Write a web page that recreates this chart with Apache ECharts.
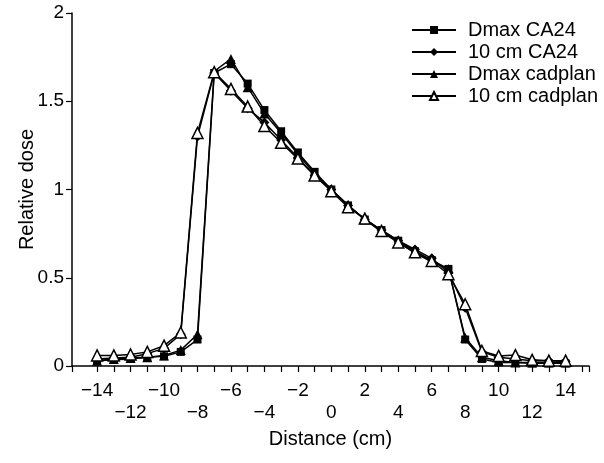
<!DOCTYPE html>
<html>
<head>
<meta charset="utf-8">
<script src="https://cdn.jsdelivr.net/npm/echarts@6/dist/echarts.min.js"></script>
<style>html,body{margin:0;padding:0;background:#fff}#c{width:604px;height:463px}</style>
</head>
<body>
<div id="c"></div>
<script>
const distances = [-14,-13,-12,-11,-10,-9,-8,-7,-6,-5,-4,-3,-2,-1,0,1,2,3,4,5,6,7,8,9,10,11,12,13,14];
const dmaxCA24 =     [0.03,0.035,0.04,0.05,0.055,0.08,0.15,1.66,1.71,1.60,1.45,1.33,1.21,1.10,1.00,0.91,0.83,0.77,0.71,0.65,0.60,0.55,0.15,0.04,0.02,0.02,0.015,0.015,0.015];
const cm10CA24 =     [0.04,0.045,0.05,0.07,0.10,0.18,1.30,1.66,1.56,1.46,1.38,1.28,1.18,1.08,1.00,0.91,0.83,0.77,0.71,0.66,0.61,0.53,0.33,0.08,0.05,0.04,0.03,0.03,0.025];
const dmaxCadplan =  [0.03,0.04,0.045,0.05,0.06,0.09,0.18,1.67,1.74,1.58,1.43,1.32,1.20,1.09,1.00,0.91,0.83,0.76,0.70,0.64,0.59,0.55,0.16,0.05,0.03,0.02,0.02,0.02,0.02];
const cm10Cadplan =  [0.06,0.06,0.065,0.08,0.115,0.19,1.32,1.665,1.57,1.47,1.36,1.265,1.175,1.08,0.99,0.90,0.835,0.765,0.70,0.645,0.595,0.52,0.35,0.085,0.057,0.062,0.035,0.03,0.03];
const seriesNames = ['Dmax CA24','10 cm CA24','Dmax cadplan','10 cm cadplan'];
const xLabelValues = [-14,-12,-10,-8,-6,-4,-2,0,2,4,6,8,10,12,14];
const xTickValues = [-15.5,-14,-13,-12,-11,-10,-9,-8,-7,-6,-5,-4,-3,-2,-1,0,1,2,3,4,5,6,7,8,9,10,11,12,13,14,15,15.4];

const FONT = 'Liberation Sans, Arial, sans-serif';
function pairs(arr){ return distances.map((d,i)=>[d,arr[i]]); }
function fmt(v){ return v < 0 ? '\u2212' + Math.abs(v) : String(v); }

const chart = echarts.init(document.getElementById('c'), null, {renderer:'canvas'});
const lineStyle = {color:'#000', width:1.5};
chart.setOption({
  animation:false,
  backgroundColor:'#fff',
  textStyle:{fontFamily:FONT, color:'#000'},
  grid:{left:72, right:15, top:13, bottom:97, containLabel:false},
  legend:{
    orient:'vertical', left:411, top:20, padding:0,
    itemWidth:44, itemHeight:10, itemGap:2,
    textStyle:{fontFamily:FONT, fontSize:20, color:'#000', padding:[0,0,0,7], lineHeight:20},
    data:seriesNames
  },
  xAxis:{
    type:'value', min:-15.5, max:15.4,
    name:'Distance (cm)', nameLocation:'middle', nameGap:63, nameMoveOverlap:false,
    nameTextStyle:{fontFamily:FONT, fontSize:20, color:'#000'},
    axisLine:{onZero:false, lineStyle:{color:'#000', width:1.5}},
    axisTick:{show:true, inside:false, length:6, lineStyle:{color:'#000', width:1.2}, customValues:xTickValues},
    axisLabel:{customValues:xLabelValues, fontFamily:FONT, fontSize:19, color:'#000', margin:14, lineHeight:22,
      formatter:function(v){ const k = Math.round((v+14)/2); return k % 2 === 1 ? '\n' + fmt(v) : fmt(v); }},
    splitLine:{show:false}
  },
  yAxis:{
    type:'value', min:0, max:2, interval:0.5,
    name:'Relative dose', nameLocation:'middle', nameGap:35, nameRotate:90, nameMoveOverlap:false,
    nameTextStyle:{fontFamily:FONT, fontSize:20, color:'#000'},
    axisLine:{show:true, onZero:false, lineStyle:{color:'#000', width:1.5}},
    axisTick:{show:true, inside:false, length:6, lineStyle:{color:'#000', width:1.2}},
    axisLabel:{fontFamily:FONT, fontSize:19, color:'#000', margin:8, formatter:function(v){return String(v);}},
    splitLine:{show:false}
  },
  series:[
    {name:seriesNames[0], type:'line', data:pairs(dmaxCA24), symbol:'rect', symbolSize:8,
     lineStyle:lineStyle, itemStyle:{color:'#000'}},
    {name:seriesNames[1], type:'line', data:pairs(cm10CA24), symbol:'diamond', symbolSize:10,
     lineStyle:lineStyle, itemStyle:{color:'#000'}},
    {name:seriesNames[2], type:'line', data:pairs(dmaxCadplan), symbol:'triangle', symbolSize:10,
     lineStyle:lineStyle, itemStyle:{color:'#000'}},
    {name:seriesNames[3], type:'line', data:pairs(cm10Cadplan), symbol:'triangle', symbolSize:11,
     lineStyle:lineStyle, itemStyle:{color:'#fff', borderColor:'#000', borderWidth:1.5}}
  ]
});
</script>
</body>
</html>
